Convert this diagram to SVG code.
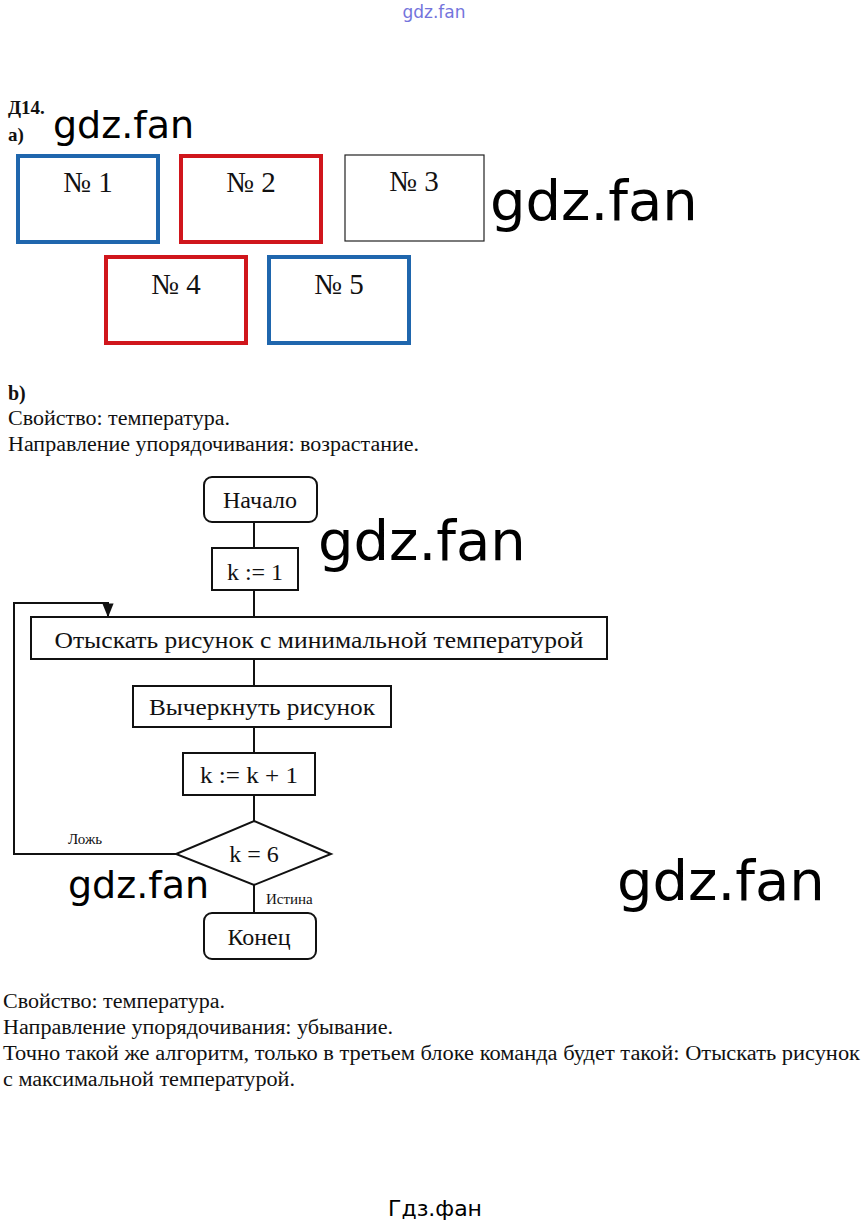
<svg xmlns="http://www.w3.org/2000/svg" width="867" height="1226" viewBox="0 0 867 1226">
<style>
.t{font-family:"Liberation Serif","Times New Roman",serif;fill:#111}
.b{font-weight:bold}
.wm{font-family:"DejaVu Sans",Verdana,sans-serif;fill:#000}
.box{fill:#fff;stroke:#111;stroke-width:2}
.blue{fill:#fff;stroke:#1f66ad;stroke-width:4}
.red{fill:#fff;stroke:#d0161c;stroke-width:4}
.thin{fill:#fff;stroke:#222;stroke-width:1.2}
.ln{fill:none;stroke:#111;stroke-width:2}
.num{font-size:29px;text-anchor:middle}
.fc{font-size:24px;text-anchor:middle}
.body{font-size:20px}
.lbl{font-size:15px}
</style>
<defs>
<marker id="arr" viewBox="0 0 10 10" refX="9" refY="5" markerWidth="7" markerHeight="7" orient="auto">
<path d="M0,1 L10,5 L0,9 Z" fill="#111"/>
</marker>
</defs>
<rect width="867" height="1226" fill="#fff"/>

<text x="434" y="18" font-family="DejaVu Sans,sans-serif" font-size="17" fill="#7474dc" text-anchor="middle">gdz.fan</text>

<text class="t b" x="8" y="114" font-size="19">Д14.</text>
<text class="t b" x="8" y="141" font-size="19">а)</text>
<text class="wm" x="53" y="138" font-size="38">gdz.fan</text>

<g id="n1"><rect class="blue" x="18" y="156" width="140" height="86"/><text class="t num" x="88" y="192">№ 1</text></g>
<g id="n2"><rect class="red" x="181" y="156" width="140" height="86"/><text class="t num" x="251" y="192">№ 2</text></g>
<g id="n3"><rect class="thin" x="345" y="155" width="139" height="86"/><text class="t num" x="414" y="191">№ 3</text></g>
<g id="n4"><rect class="red" x="106" y="257" width="140" height="86"/><text class="t num" x="176" y="294">№ 4</text></g>
<g id="n5"><rect class="blue" x="269" y="257" width="140" height="86"/><text class="t num" x="339" y="294">№ 5</text></g>

<text class="wm" x="490" y="220" font-size="56">gdz.fan</text>

<text class="t b" x="8" y="400" font-size="20">b)</text>
<text class="t body" x="8" y="425" textLength="222" lengthAdjust="spacingAndGlyphs">Свойство: температура.</text>
<text class="t body" x="8" y="451" textLength="411" lengthAdjust="spacingAndGlyphs">Направление упорядочивания: возрастание.</text>

<g id="connectors">
<line class="ln" x1="254" y1="522" x2="254" y2="548"/>
<line class="ln" x1="254" y1="590" x2="254" y2="617"/>
<line class="ln" x1="254" y1="659" x2="254" y2="686"/>
<line class="ln" x1="254" y1="727" x2="254" y2="753"/>
<line class="ln" x1="254" y1="795" x2="254" y2="821"/>
<line class="ln" x1="254" y1="885" x2="254" y2="913"/>
<polyline class="ln" points="176,854 14,854 14,603 108,603 108,616" marker-end="url(#arr)"/>
<text class="t lbl" x="68" y="844">Ложь</text>
<text class="t lbl" x="266" y="904">Истина</text>
</g>

<g id="start"><rect class="box" x="204" y="477" width="113" height="45" rx="8"/><text class="t fc" x="260" y="508">Начало</text></g>
<g id="init"><rect class="box" x="212" y="548" width="86" height="42"/><text class="t fc" x="255" y="580">k := 1</text></g>
<g id="find"><rect class="box" x="31" y="617" width="576" height="42"/><text class="t fc" x="319" y="648" textLength="529" lengthAdjust="spacingAndGlyphs">Отыскать рисунок с минимальной температурой</text></g>
<g id="strike"><rect class="box" x="133" y="686" width="258" height="41"/><text class="t fc" x="262" y="715" textLength="226" lengthAdjust="spacingAndGlyphs">Вычеркнуть рисунок</text></g>
<g id="inc"><rect class="box" x="183" y="753" width="132" height="42"/><text class="t fc" x="249" y="783" textLength="98" lengthAdjust="spacingAndGlyphs">k := k + 1</text></g>
<g id="cond"><polygon class="box" points="254,821 331,854 254,885 176,854"/><text class="t fc" x="254" y="862">k = 6</text></g>
<g id="end"><rect class="box" x="204" y="913" width="112" height="46" rx="8"/><text class="t fc" x="259" y="945">Конец</text></g>

<text class="wm" x="318" y="560" font-size="56">gdz.fan</text>
<text class="wm" x="68" y="898" font-size="38">gdz.fan</text>
<text class="wm" x="617" y="900" font-size="56">gdz.fan</text>

<text class="t body" x="3" y="1008" textLength="222" lengthAdjust="spacingAndGlyphs">Свойство: температура.</text>
<text class="t body" x="3" y="1034" textLength="390" lengthAdjust="spacingAndGlyphs">Направление упорядочивания: убывание.</text>
<text class="t body" x="3" y="1060" textLength="857" lengthAdjust="spacingAndGlyphs">Точно такой же алгоритм, только в третьем блоке команда будет такой: Отыскать рисунок</text>
<text class="t body" x="3" y="1086" textLength="292" lengthAdjust="spacingAndGlyphs">с максимальной температурой.</text>

<text x="435" y="1216" font-family="DejaVu Sans,sans-serif" font-size="22" fill="#000" text-anchor="middle">Гдз.фан</text>
</svg>
